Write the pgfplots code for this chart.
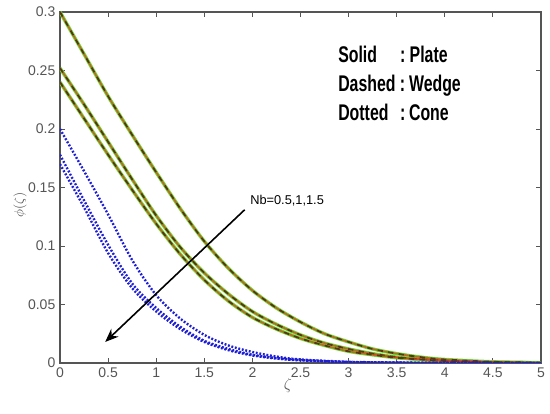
\documentclass[border=0pt]{standalone}
\usepackage{pgfplots}
\pgfplotsset{compat=1.18}
\usepackage{pgfplotstable}
\usepackage{fontspec}
\setmainfont{Liberation Sans}
\newfontfamily\condfont[FakeStretch=0.7]{Liberation Sans}
\usetikzlibrary{arrows.meta}

\definecolor{axisgray}{RGB}{85,85,85}
\definecolor{plategreen}{RGB}{110,220,60}
\definecolor{wedgedark}{RGB}{95,50,20}
\definecolor{wedgered}{RGB}{215,60,30}
\definecolor{coneblue}{RGB}{30,30,215}

% zeta, three Nb values (plate and wedge coincide)
\pgfplotstableread{
z     p1     p2     p3
0     0.300  0.252  0.240
0.25  0.264  0.221  0.209
0.5   0.228  0.189  0.178
0.75  0.195  0.157  0.148
1.0   0.163  0.126  0.119
1.25  0.132  0.099  0.093
1.5   0.104  0.077  0.071
1.75  0.081  0.059  0.053
2.0   0.062  0.044  0.039
2.25  0.047  0.033  0.029
2.5   0.035  0.024  0.021
2.75  0.025  0.017  0.015
3.0   0.018  0.012  0.010
3.25  0.012  0.008  0.007
3.5   0.008  0.005  0.0045
3.75  0.005  0.0033 0.003
4.0   0.003  0.002  0.0018
4.5   0.001  0.0007 0.0006
5.0   0.0002 0.0001 0.0001
}\platetable

\pgfplotstableread{
z     c1     c2     c3
0     0.200  0.178  0.170
0.25  0.164  0.139  0.133
0.5   0.127  0.101  0.094
0.75  0.088  0.068  0.064
1.0   0.058  0.047  0.044
1.25  0.038  0.031  0.029
1.5   0.024  0.019  0.018
1.75  0.015  0.012  0.011
2.0   0.0094 0.007  0.0065
2.25  0.0055 0.0042 0.0038
2.5   0.003  0.0025 0.0023
3.0   0.001  0.0008 0.0007
3.5   0.0004 0.0003 0.0003
4.0   0.0001 0.0001 0.0001
5.0   0      0      0
}\conetable

\begin{document}
\begin{tikzpicture}
\begin{axis}[
    scale only axis,
    width=360.75bp, height=263.25bp,
    xmin=0, xmax=5, ymin=0, ymax=0.3,
    xtick={0,0.5,...,5},
    xticklabels={0,0.5,1,1.5,2,2.5,3,3.5,4,4.5,5},
    ytick={0,0.05,0.1,0.15,0.2,0.25,0.3},
    yticklabels={0,0.05,0.1,0.15,0.2,0.25,0.3},
    scaled ticks=false,
    tick align=inside,
    major tick length=4bp,
    axis line style={axisgray, line width=0.8bp},
    every tick/.style={axisgray, line width=0.6bp},
    tick label style={font=\fontsize{10.5bp}{12bp}\selectfont, text=axisgray},
    /pgf/number format/assume math mode=true,
    xlabel={$\zeta$},
    ylabel={$\phi(\zeta)$},
    xlabel style={at={(axis description cs:0.474,-0.063)}, anchor=center, text=axisgray, font=\fontsize{12bp}{13bp}\selectfont},
    ylabel style={at={(axis description cs:-0.083,0.45)}, anchor=center, rotate=0, text=axisgray, font=\fontsize{10bp}{11bp}\selectfont},
]
% plate: solid green
\foreach \c in {p1,p2,p3}{
  \addplot[plategreen, line width=2.6bp, smooth] table[x=z, y=\c] {\platetable};
}
% wedge: dashed, dark and red
\foreach \c in {p1,p2,p3}{
  \addplot[wedgered, opacity=0.7, line width=1.3bp, smooth, dash pattern=on 4bp off 4bp, dash phase=4bp] table[x=z, y=\c] {\platetable};
  \addplot[wedgedark, line width=1.4bp, smooth, dash pattern=on 4bp off 4bp] table[x=z, y=\c] {\platetable};
}
% cone: dotted blue
\foreach \c in {c1,c2,c3}{
  \addplot[coneblue, line width=1.8bp, smooth, dash pattern=on 1.4bp off 1.3bp] table[x=z, y=\c] {\conetable};
}
\draw[black, line width=1.2bp, -{Stealth[length=10bp, width=8bp]}] (axis cs:1.92,0.131) -- (axis cs:0.47,0.018);
\node[anchor=west, inner sep=0pt, font=\fontsize{9.6bp}{11bp}\selectfont] at (axis cs:1.975,0.139) {Nb=0.5,1,1.5};
\node[anchor=west, inner sep=0pt, font=\condfont\bfseries\fontsize{17bp}{21.75bp}\selectfont] at (axis cs:2.89,0.2368)
  {\begin{tabular}{@{}l@{\ }l@{}}Solid & :\ Plate\\ Dashed & :\,Wedge\\ Dotted & :\,Cone\end{tabular}};
\end{axis}
\pgfresetboundingbox
\path ([shift={(-45bp,-38.25bp)}]current axis.south west) rectangle ([shift={(6.75bp,9bp)}]current axis.north east);
\end{tikzpicture}
\end{document}
